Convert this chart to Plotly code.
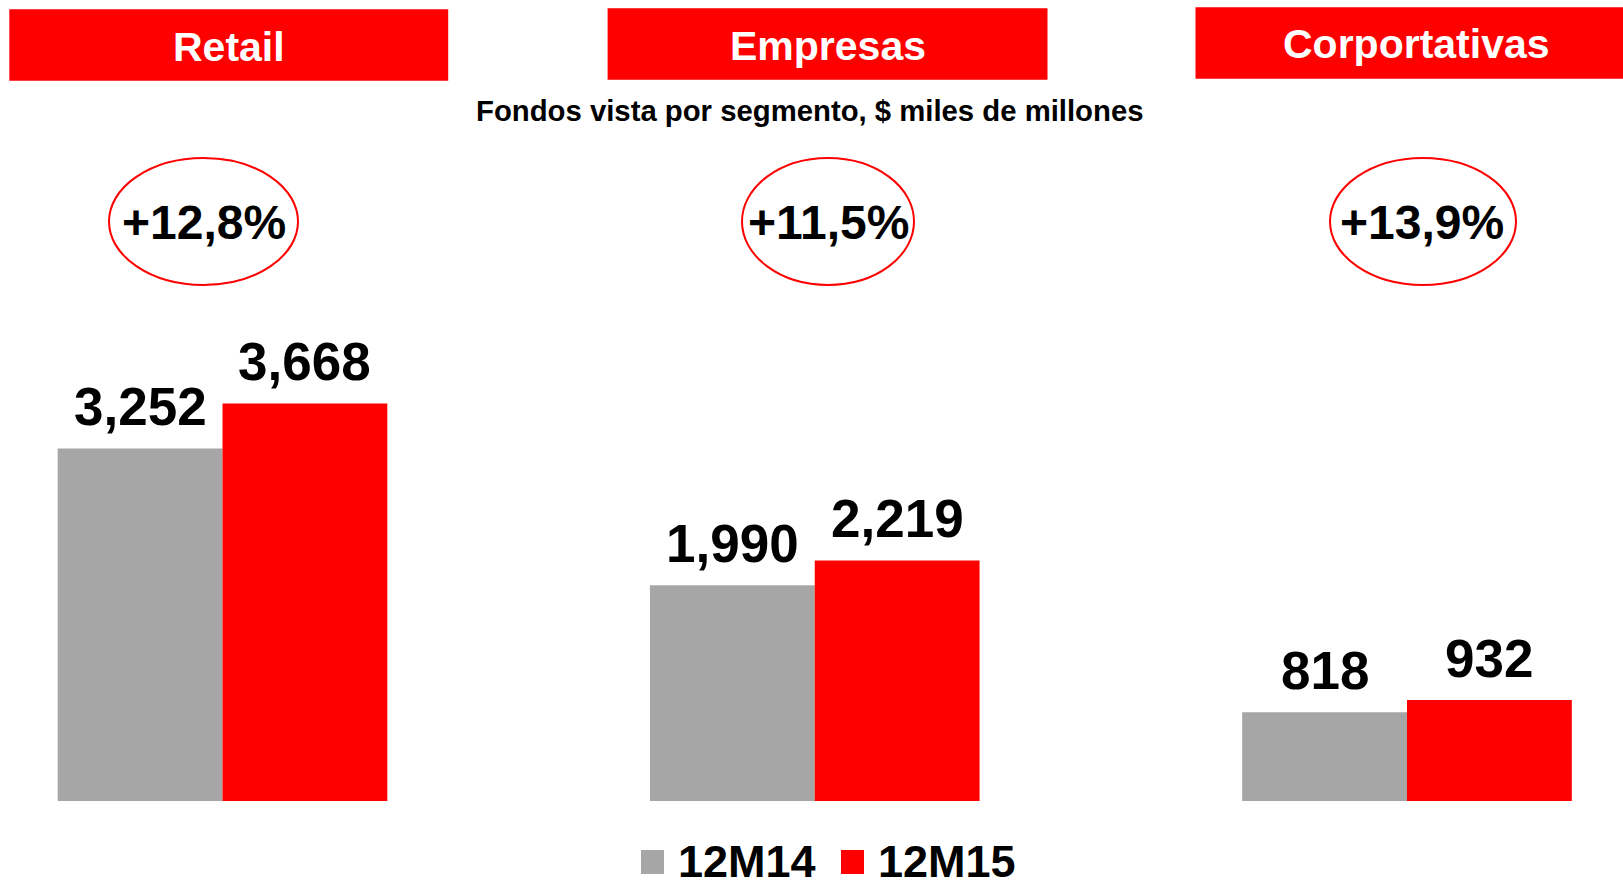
import plotly.graph_objects as go

# ---- data ----
segments = ["Retail", "Empresas", "Corportativas"]
series_names = ["12M14", "12M15"]
values_12m14 = [3252, 1990, 818]
values_12m15 = [3668, 2219, 932]
title_text = "Fondos vista por segmento, $ miles de millones"

# ---- styling ----
W, H = 1623, 887
GRAY = "#A6A6A6"
RED = "#FF0000"
FONT = "Liberation Sans, Arial, sans-serif"
BAR_W = 0.2783


def px(x):
    return x / W


def py(y):
    return 1 - y / H


def fmt_thousands(v):
    return f"{v:,}"


def fmt_growth(a, b):
    g = (b / a - 1) * 100
    return "+" + f"{g:.1f}".replace(".", ",") + "%"


xs = list(range(len(segments)))

fig = go.Figure()
fig.add_trace(go.Bar(
    x=xs, y=values_12m14, name=series_names[0],
    width=BAR_W, offset=-BAR_W,
    marker=dict(color=GRAY, line=dict(width=0)),
    hoverinfo="skip",
))
fig.add_trace(go.Bar(
    x=xs, y=values_12m15, name=series_names[1],
    width=BAR_W, offset=0,
    marker=dict(color=RED, line=dict(width=0)),
    hoverinfo="skip",
))

annotations = []
shapes = []

# value labels above each bar
for i in xs:
    annotations.append(dict(
        x=i - BAR_W / 2, y=values_12m14[i], xref="x", yref="y",
        text=fmt_thousands(values_12m14[i]), showarrow=False,
        xanchor="center", yanchor="bottom", yshift=10,
        font=dict(family=FONT, size=53, color="black", weight="bold"),
    ))
    annotations.append(dict(
        x=i + BAR_W / 2, y=values_12m15[i], xref="x", yref="y",
        text=fmt_thousands(values_12m15[i]), showarrow=False,
        xanchor="center", yanchor="bottom", yshift=10,
        font=dict(family=FONT, size=53, color="black", weight="bold"),
    ))

# segment header boxes
header_boxes = [(9.3, 448.2, 9.3, 80.7), (607.6, 1047.5, 8.3, 79.7), (1195.5, 1623, 7.2, 78.7)]
header_text_x = [229, 828, 1416]
for (x0, x1, y0, y1), tx, name in zip(header_boxes, header_text_x, segments):
    shapes.append(dict(
        type="rect", xref="paper", yref="paper",
        x0=px(x0), x1=px(x1), y0=py(y1), y1=py(y0),
        fillcolor=RED, line=dict(width=0), layer="below",
    ))
    annotations.append(dict(
        x=px(tx), y=py((y0 + y1) / 2 + 1.5), xref="paper", yref="paper",
        text=name, showarrow=False, xanchor="center", yanchor="middle",
        font=dict(family=FONT, size=41, color="white", weight="bold"),
    ))

# growth ellipses
ellipses = [(109, 298), (742, 914), (1330, 1516)]
growth_text_x = [204, 828, 1422]
for i, ((x0, x1), tx) in enumerate(zip(ellipses, growth_text_x)):
    shapes.append(dict(
        type="circle", xref="paper", yref="paper",
        x0=px(x0), x1=px(x1), y0=py(285), y1=py(158),
        line=dict(color=RED, width=2), fillcolor="rgba(0,0,0,0)",
    ))
    annotations.append(dict(
        x=px(tx), y=py(222.5), xref="paper", yref="paper",
        text=fmt_growth(values_12m14[i], values_12m15[i]), showarrow=False,
        xanchor="center", yanchor="middle",
        font=dict(family=FONT, size=48, color="black", weight="bold"),
    ))

# subtitle
annotations.append(dict(
    x=px(809), y=py(111), xref="paper", yref="paper",
    text=title_text, showarrow=False, xanchor="center", yanchor="middle",
    font=dict(family=FONT, size=29.3, color="black", weight="bold"),
))

# legend drawn as swatches + labels along the bottom edge
legend_items = [(641, 676, GRAY), (841, 876, RED)]
for (sx, tx, col), name in zip(legend_items, series_names):
    shapes.append(dict(
        type="rect", xref="paper", yref="paper",
        x0=px(sx), x1=px(sx + 23), y0=py(874), y1=py(850),
        fillcolor=col, line=dict(width=0),
    ))
    annotations.append(dict(
        x=px(tx), y=py(861), xref="paper", yref="paper",
        text=name, showarrow=False, xanchor="left", yanchor="middle",
        font=dict(family=FONT, size=45, color="black", weight="bold"),
    ))

# axis ranges place the baseline at y=801px and groups 592px apart
x_left = -222.5 / 592.25
x_right = (W - 222.5) / 592.25
px_per_unit = 0.1084
y_bottom = -(H - 801) / px_per_unit
y_top = 801 / px_per_unit

fig.update_layout(
    width=W, height=H,
    margin=dict(l=0, r=0, t=0, b=0, pad=0),
    paper_bgcolor="white", plot_bgcolor="white",
    showlegend=False,
    barmode="overlay",
    xaxis=dict(range=[x_left, x_right], visible=False, fixedrange=True),
    yaxis=dict(range=[y_bottom, y_top], visible=False, fixedrange=True),
    annotations=annotations,
    shapes=shapes,
)

fig.write_html("out.html", config={"displayModeBar": False})
